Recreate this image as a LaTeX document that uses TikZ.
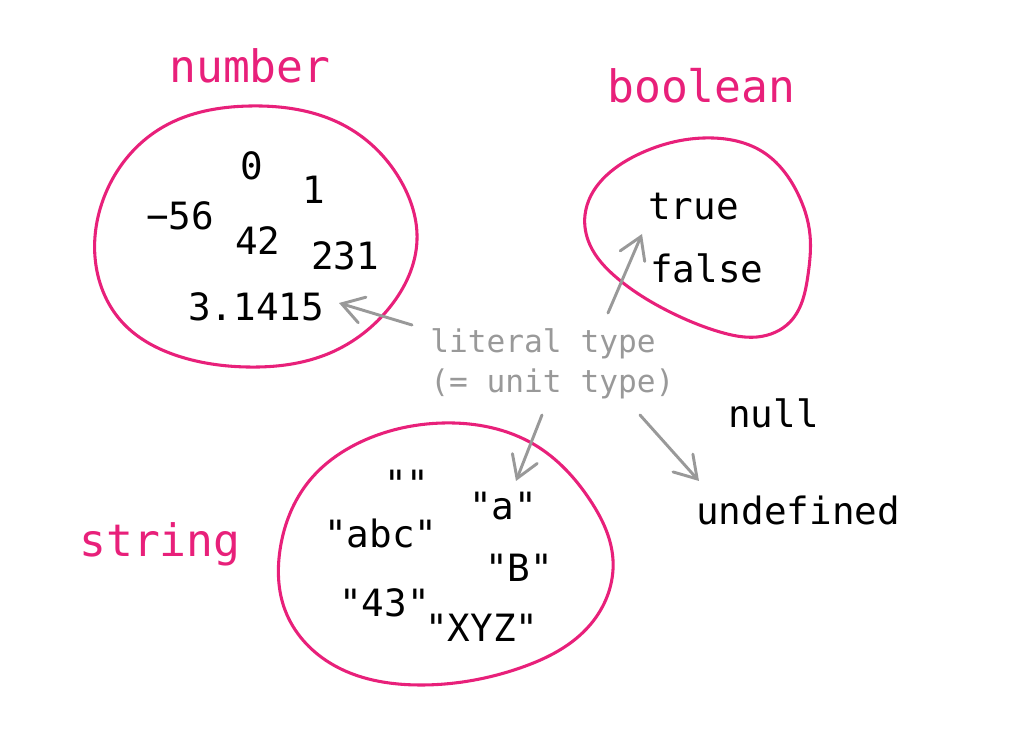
\documentclass[tikz,border=0pt]{standalone}
\usepackage{fontspec}
\setmonofont{DejaVu Sans Mono}
\usetikzlibrary{arrows.meta,hobby}
\definecolor{pinkc}{HTML}{E8207A}
\definecolor{greyc}{HTML}{999999}
\tikzset{
  blob/.style={draw=pinkc,line width=2.3pt,closed hobby},
  val/.style={anchor=base west,inner sep=0pt,font=\ttfamily\fontsize{28.2}{30}\selectfont},
  lab/.style={anchor=base west,inner sep=0pt,text=pinkc,font=\ttfamily\fontsize{33.5}{36}\selectfont},
  note/.style={anchor=base west,inner sep=0pt,text=greyc,font=\ttfamily\fontsize{23.4}{26}\selectfont},
  pointer/.style={draw=greyc,line width=2.2pt,line cap=round,-{Straight Barb[length=16pt,width=20pt,line cap=round]}}
}
\begin{document}
\begin{tikzpicture}[x=0.75pt,y=-0.75pt]
\useasboundingbox (0,0) rectangle (1032,730);
% blobs
\draw[blob] plot coordinates {(250,106) (347,127) (402,183) (417,240) (390,307) (330,353) (247,367) (178,356) (122,322) (95,257) (103,200) (163,127)};
\draw[blob] plot coordinates {(713,138) (763,152) (797,192) (810,235) (808,275) (790,322) (757,337) (720,332) (670,312) (617,278) (590,245) (585,215) (637,155)};
\draw[blob] plot coordinates {(443,423) (535,445) (590,500) (613,560) (590,625) (520,668) (420,685) (330,663) (285,610) (280,550) (310,480) (365,440)};
% labels
\node[lab] (lnum) at (169,83) {number};
\node[lab] (lbool) at (607,103) {boolean};
\node[lab] (lstr) at (79,557) {string};
% numbers
\node[val] (n0) at (240,180) {0};
\node[val] (n1) at (302,204) {1};
\node[val] (n56) at (146,230) {−56};
\node[val] (n42) at (235,255) {42};
\node[val] (n231) at (311,270) {231};
\node[val] (npi) at (188,321) {3.1415};
% booleans
\node[val] (btrue) at (648,220) {true};
\node[val] (bfalse) at (650,283) {false};
% others
\node[val] (vnull) at (728,428) {null};
\node[val] (vundef) at (696,525) {undefined};
% strings
\node[val] (s0) at (384,498) {""};
\node[val] (sa) at (469,520) {"a"};
\node[val] (sabc) at (324,548) {"abc"};
\node[val] (sB) at (485,582) {"B"};
\node[val] (s43) at (339,617) {"43"};
\node[val] (sxyz) at (425,642) {"XYZ"};
% note
\node[note] (lit1) at (430,353) {literal type};
\node[note] (lit2) at (430,393) {(= unit type)};
% arrow endpoints
\coordinate (a1s) at (412,325); \coordinate (a1e) at (339,303);
\coordinate (a2s) at (608,313); \coordinate (a2e) at (642,234);
\coordinate (a3s) at (542,415); \coordinate (a3e) at (516,481);
\coordinate (a4s) at (640,415); \coordinate (a4e) at (699,481);
\draw[pointer] (a1s) -- (a1e);
\draw[pointer] (a2s) -- (a2e);
\draw[pointer] (a3s) -- (a3e);
\draw[pointer] (a4s) -- (a4e);
\end{tikzpicture}
\end{document}
